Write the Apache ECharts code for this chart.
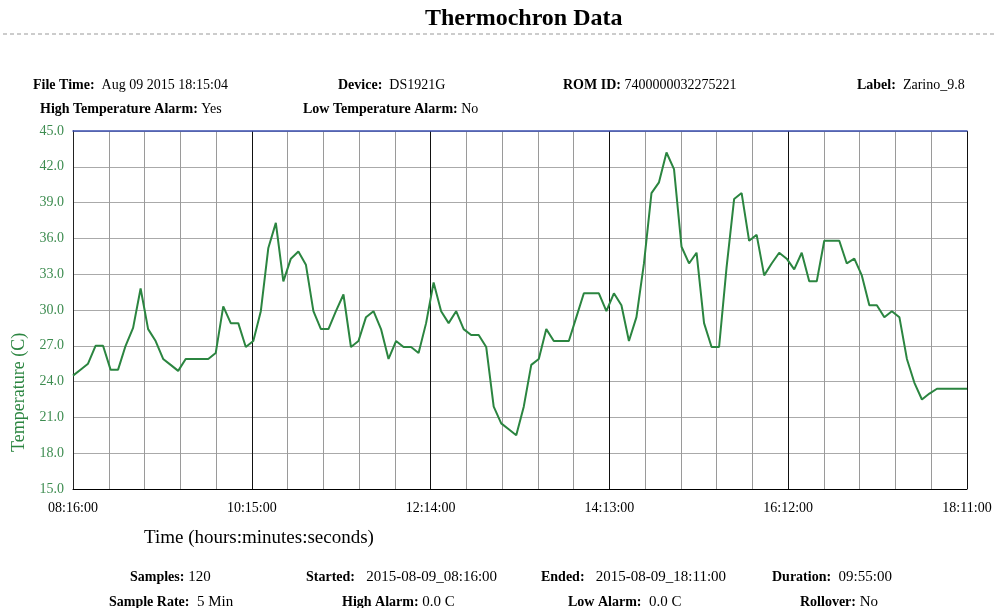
<!DOCTYPE html>
<html>
<head>
<meta charset="utf-8">
<title>Thermochron Data</title>
<script src="https://cdn.jsdelivr.net/npm/echarts@6/dist/echarts.min.js"></script>
<style>
  * { margin: 0; padding: 0; }
  body { background: #fff; }
</style>
</head>
<body>
<div id="main" style="width:996px;height:608px;"></div>
<script>
// readings, one every 5 min from 08:16:00
var temps = [
  24.5, 25.0, 25.5, 27.0, 27.0, 25.0, 25.0, 27.0, 28.5, 31.8,
  28.4, 27.4, 25.9, 25.4, 24.9, 25.9, 25.9, 25.9, 25.9, 26.4,
  30.3, 28.9, 28.9, 26.9, 27.4, 29.9, 35.2, 37.3, 32.4, 34.3,
  34.9, 33.8, 29.9, 28.4, 28.4, 29.9, 31.3, 26.9, 27.4, 29.4,
  29.9, 28.4, 25.9, 27.4, 26.9, 26.9, 26.4, 28.9, 32.3, 29.9,
  28.9, 29.9, 28.4, 27.9, 27.9, 26.9, 21.9, 20.5, 20.0, 19.5,
  21.9, 25.4, 25.9, 28.4, 27.4, 27.4, 27.4, 29.4, 31.4, 31.4,
  31.4, 29.9, 31.4, 30.4, 27.4, 29.4, 33.9, 39.8, 40.7, 43.2,
  41.8, 35.3, 33.9, 34.8, 28.9, 26.9, 26.9, 33.6, 39.3, 39.8,
  35.8, 36.3, 32.9, 33.9, 34.8, 34.3, 33.4, 34.8, 32.4, 32.4,
  35.8, 35.8, 35.8, 33.9, 34.3, 32.9, 30.4, 30.4, 29.4, 29.9,
  29.4, 25.9, 23.9, 22.5, 23.0, 23.4, 23.4, 23.4, 23.4, 23.4
];
var startMin = 8 * 60 + 16;   // 08:16:00
var sampleRate = 5;           // minutes
var totalMin = 595;           // 09:55:00
var labelStep = 119;          // 08:16, 10:15, 12:14 ...

// [bold label, value, left x]
var headerRow1 = [
  ['File Time:', '  Aug 09 2015 18:15:04', 33],
  ['Device:', '  DS1921G', 338],
  ['ROM ID:', ' 7400000032275221', 563],
  ['Label:', '  Zarino_9.8', 857]
];
var headerRow2 = [
  ['High Temperature Alarm:', ' Yes', 40],
  ['Low Temperature Alarm:', ' No', 303]
];
var footerRow1 = [
  ['Samples:', ' 120', 130],
  ['Started:', '   2015-08-09_08:16:00', 306],
  ['Ended:', '   2015-08-09_18:11:00', 541],
  ['Duration:', '  09:55:00', 772]
];
var footerRow2 = [
  ['Sample Rate:', '  5 Min', 109],
  ['High Alarm:', ' 0.0 C', 342],
  ['Low Alarm:', '  0.0 C', 568],
  ['Rollover:', ' No', 800]
];

var serif = '"Liberation Serif", "DejaVu Serif", serif';
var green = '#2b8540';

function pad(n) { return (n < 10 ? '0' : '') + n; }
function fmtTime(v) {
  var m = Math.round(startMin + v);
  return pad(Math.floor(m / 60)) + ':' + pad(m % 60) + ':00';
}

var lineData = temps.map(function (t, i) { return [i * sampleRate, t]; });

function infoTexts(rows, y, size, valSize) {
  return rows.map(function (r) {
    return {
      type: 'text', x: r[2], y: y,
      style: {
        text: '{b|' + r[0] + '}{n|' + r[1] + '}',
        rich: {
          b: { fontFamily: serif, fontWeight: 'bold', fontSize: size, fill: '#000' },
          n: { fontFamily: serif, fontSize: valSize || size, fill: '#000' }
        }
      }
    };
  });
}

var graphics = [
  { type: 'text', left: 425, top: 7,
    style: { text: 'Thermochron Data', fontFamily: serif, fontWeight: 'bold', fontSize: 24, fill: '#000' } },
  { type: 'line', shape: { x1: 3, y1: 34, x2: 996, y2: 34 },
    style: { stroke: '#999', lineWidth: 1, lineDash: [4, 3] } },
  { type: 'text', left: 144, top: 529,
    style: { text: 'Time (hours:minutes:seconds)', fontFamily: serif, fontSize: 19, fill: '#000' } },
  { type: 'text', x: 10, y: 452, rotation: Math.PI / 2,
    style: { text: 'Temperature (C)', fontFamily: serif, fontSize: 18, fill: green, align: 'left', verticalAlign: 'top' } }
];
graphics = graphics
  .concat(infoTexts(headerRow1, 78, 14))
  .concat(infoTexts(headerRow2, 102, 14))
  .concat(infoTexts(footerRow1, 570, 14, 15))
  .concat(infoTexts(footerRow2, 595, 14, 15));

var chart = echarts.init(document.getElementById('main'));
chart.setOption({
  animation: false,
  grid: { left: 73, top: 131, width: 894, height: 358 },
  graphic: graphics,
  xAxis: [{
    type: 'value', min: 0, max: totalMin, interval: labelStep,
    axisLine: { show: true, lineStyle: { color: '#000', width: 1 } },
    axisTick: { show: false },
    axisLabel: {
      formatter: fmtTime, color: '#000', fontFamily: serif, fontSize: 14, margin: 12,
      showMinLabel: true, showMaxLabel: true
    },
    splitLine: { show: true, lineStyle: { color: '#111', width: 1 } },
    minorTick: { show: false, splitNumber: 5 },
    minorSplitLine: { show: true, lineStyle: { color: '#9a9a9a', width: 1 } }
  }, {
    type: 'value', min: 0, max: totalMin, position: 'top',
    axisLine: { show: true, lineStyle: { color: '#3a4db0', width: 1.5 } },
    axisTick: { show: false }, axisLabel: { show: false }, splitLine: { show: false }
  }],
  yAxis: [{
    type: 'value', min: 15, max: 45, interval: 3,
    axisLine: { show: true, lineStyle: { color: '#333', width: 1 } },
    axisTick: { show: false },
    axisLabel: {
      formatter: function (v) { return v.toFixed(1); },
      color: '#3d8c50', fontFamily: serif, fontSize: 14, margin: 9
    },
    splitLine: { show: true, lineStyle: { color: '#aaaaaa', width: 1 } }
  }, {
    type: 'value', min: 15, max: 45, position: 'right',
    axisLine: { show: true, lineStyle: { color: '#222', width: 1 } },
    axisTick: { show: false }, axisLabel: { show: false }, splitLine: { show: false }
  }],
  series: [{
    type: 'line',
    data: lineData,
    showSymbol: false,
    lineStyle: { color: green, width: 2 },
    z: 5
  }]
});
</script>
</body>
</html>
